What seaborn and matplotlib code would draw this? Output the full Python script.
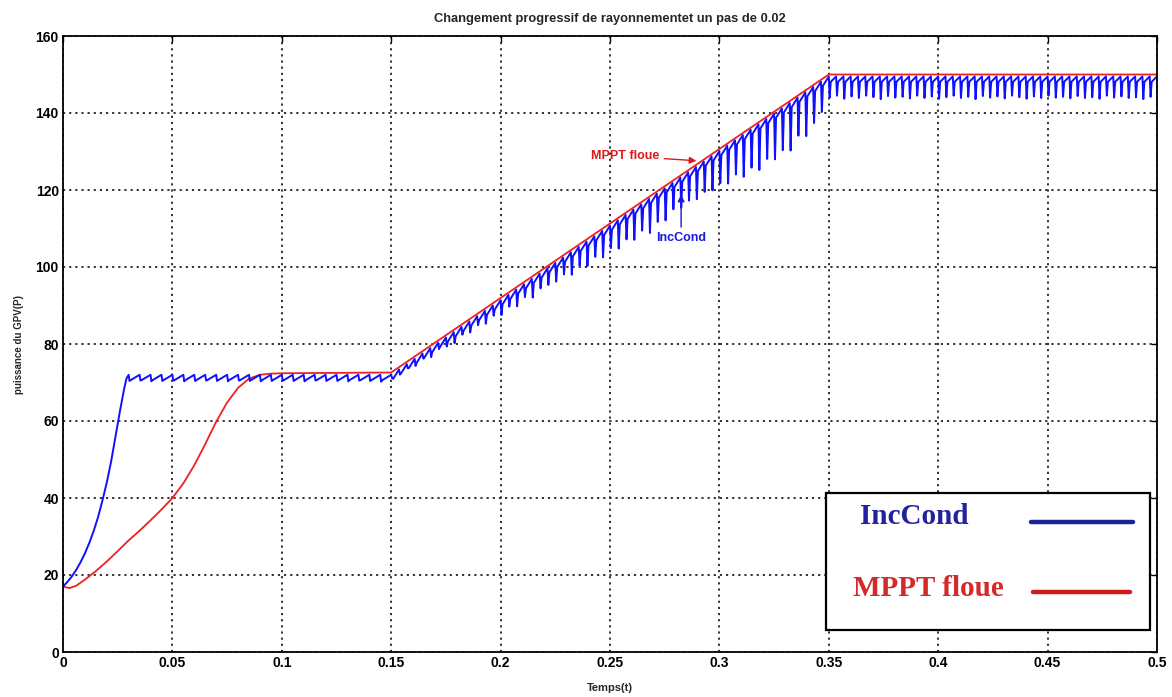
import numpy as np
import pandas as pd
import matplotlib
matplotlib.use("Agg")
import matplotlib.pyplot as plt
import seaborn as sns
from matplotlib.patches import Rectangle
from matplotlib.lines import Line2D

# ---- MPPT floue (fuzzy controller): PV power vs time ----
t_floue = [0.0, 0.003, 0.006, 0.01, 0.015, 0.02, 0.025, 0.03, 0.035, 0.04,
           0.045, 0.05, 0.055, 0.06, 0.065, 0.07, 0.075, 0.08, 0.085, 0.09,
           0.095, 0.1, 0.15, 0.35, 0.5]
p_floue = [17.0, 16.6, 17.2, 18.8, 21.0, 23.5, 26.2, 29.0, 31.5, 34.2,
           37.0, 40.0, 43.8, 48.5, 54.0, 59.8, 64.8, 68.6, 71.0, 72.0,
           72.3, 72.4, 72.6, 150.0, 150.0]

# ---- IncCond: start-up rise ----
t_inc_rise = [0.0, 0.002, 0.004, 0.006, 0.008, 0.010, 0.012, 0.014, 0.016,
              0.018, 0.020, 0.022, 0.024, 0.026, 0.028, 0.029, 0.030]
p_inc_rise = [17.0, 18.2, 19.6, 21.3, 23.3, 25.6, 28.3, 31.4, 35.0,
              39.3, 44.0, 49.5, 56.0, 62.5, 68.5, 71.0, 72.0]

# IncCond operating segments: (start, end, upper level at start, upper level at end)
inc_segments = [(0.030, 0.150, 72.0, 72.0),
                (0.150, 0.350, 72.0, 149.5),
                (0.350, 0.500, 149.5, 149.5)]

# depth of each oscillation dip below the upper level, per segment
inc_dips_plateau1 = [1.6, 1.5, 1.7, 1.6, 1.5, 1.7, 1.6, 1.5, 1.6, 1.7, 1.5, 1.6,
                     1.7, 1.6, 1.5, 1.6, 1.7, 1.5, 1.6, 1.6, 1.7, 1.5, 1.6, 1.8]
inc_dips_ramp = [1.0, 1.5, 1.2, 2.0, 1.5, 2.5, 1.8, 2.5, 3.0, 2.2,
                 3.0, 2.5, 3.5, 2.8, 4.0, 3.2, 4.5, 3.5, 5.0, 4.0,
                 4.5, 5.0, 4.5, 6.0, 5.0, 6.5, 5.5, 7.0, 6.0, 7.5,
                 6.5, 8.0, 7.0, 9.0, 7.5, 8.5, 7.0, 8.0, 7.5, 8.5,
                 8.0, 9.0, 8.5, 10.0, 9.0, 11.0, 10.0, 12.0, 10.5, 12.0,
                 11.0, 12.5, 10.0, 11.5, 9.5, 8.0]
inc_dips_plateau2 = [5.5, 5.0, 5.8, 5.2, 5.6, 5.0, 5.4, 5.9, 5.1, 5.5,
                     5.3, 5.7, 5.0, 5.6, 5.2, 5.8, 5.4, 5.0, 5.6, 5.3,
                     5.9, 5.1, 5.5, 5.2, 5.7, 5.0, 5.4, 5.8, 5.2, 5.6,
                     5.0, 5.5, 5.3, 5.7, 5.1, 5.6, 5.4, 5.8, 5.0, 5.5,
                     5.2, 5.6, 5.4, 5.9, 5.3]
inc_dips = [inc_dips_plateau1, inc_dips_ramp, inc_dips_plateau2]

x_ticks = [0, 0.05, 0.1, 0.15, 0.2, 0.25, 0.3, 0.35, 0.4, 0.45, 0.5]
x_tick_labels = ["0", "0.05", "0.1", "0.15", "0.2", "0.25", "0.3", "0.35", "0.4", "0.45", "0.5"]
y_ticks = [0, 20, 40, 60, 80, 100, 120, 140, 160]


def oscillating_trace(segments, dips):
    """Upper level of each segment with a sharp dip every sampling step."""
    ts, ps = [], []
    for (t0, t1, top0, top1), depths in zip(segments, dips):
        period = (t1 - t0) / len(depths)
        slope = (top1 - top0) / (t1 - t0)
        for k, d in enumerate(depths):
            tk = t0 + period * k
            top = top0 + slope * (tk - t0)
            ts += [tk, tk + 0.0004, tk + 0.0009]
            ps += [top, top - d + slope * 0.0004, top - 1.4 + slope * 0.0009]
        ts.append(t1)
        ps.append(top1)
    return ts, ps


t_osc, p_osc = oscillating_trace(inc_segments, inc_dips)
inc = pd.DataFrame({"t": t_inc_rise + t_osc, "P": p_inc_rise + p_osc})
floue = pd.DataFrame({"t": t_floue, "P": p_floue})

sns.set_theme(style="white")
plt.rcParams["font.family"] = ["Liberation Sans", "DejaVu Sans"]

fig = plt.figure(figsize=(11.72, 6.97), dpi=100)
ax = fig.add_axes([63 / 1172, 1 - 652 / 697, (1157 - 63) / 1172, (652 - 36) / 697])

sns.lineplot(data=floue, x="t", y="P", color="#f02020", lw=1.3, sort=False,
             estimator=None, ax=ax)
sns.lineplot(data=inc, x="t", y="P", color="#1010ff", lw=1.4, sort=False,
             estimator=None, ax=ax)

ax.set_xlim(0, 0.5)
ax.set_ylim(0, 160)
ax.set_xticks(x_ticks)
ax.set_xticklabels(x_tick_labels)
ax.set_yticks(y_ticks)
ax.grid(True, color="#222222", linestyle=(0, (1.2, 2.2)), linewidth=1.3)
ax.tick_params(direction="in", top=True, right=True, length=4, width=1,
               labelsize=10, pad=3, colors="black")
for lab in ax.get_xticklabels() + ax.get_yticklabels():
    lab.set_fontweight("bold")
for sp in ax.spines.values():
    sp.set_color("black")
    sp.set_linewidth(1.3)

ax.set_title("Changement progressif de rayonnementet un pas de 0.02",
             fontsize=9.3, fontweight="bold", pad=10)
ax.set_xlabel("Temps(t)", fontsize=8, fontweight="bold", labelpad=9)
ax.set_ylabel("puissance du GPV(P)", fontsize=7, fontweight="bold", labelpad=8)

# in-plot callouts
ax.annotate("MPPT floue", xy=(0.2895, 127.6), xytext=(0.2415, 128.8),
            color="#e01818", fontsize=9, fontweight="bold", va="center", ha="left",
            arrowprops=dict(arrowstyle="-|>", color="#e01818", lw=1.0,
                            shrinkA=1, shrinkB=0, mutation_scale=10))
ax.annotate("IncCond", xy=(0.2825, 118.8), xytext=(0.2825, 107.6),
            color="#1818e0", fontsize=9, fontweight="bold", va="center", ha="center",
            arrowprops=dict(arrowstyle="-|>", color="#1818e0", lw=1.0,
                            shrinkA=1, shrinkB=0, mutation_scale=10))

# boxed key in the lower right corner
W, H = 1172, 697
def fx(px):
    return px / W
def fy(py):
    return 1 - py / H

box = Rectangle((fx(826), fy(630)), fx(1150) - fx(826), fy(493) - fy(630),
                transform=fig.transFigure, facecolor="white", edgecolor="black",
                lw=1.6, zorder=5)
fig.add_artist(box)
fig.text(fx(860), fy(516), "IncCond", color="#22239c", fontsize=21,
         fontweight="bold", family=["Liberation Serif", "DejaVu Serif"],
         va="center", ha="left", zorder=6)
fig.text(fx(853), fy(589), "MPPT floue", color="#d52a2a", fontsize=21,
         fontweight="bold", family=["Liberation Serif", "DejaVu Serif"],
         va="center", ha="left", zorder=6)
fig.add_artist(Line2D([fx(1031), fx(1133)], [fy(522), fy(522)], color="#1a2496",
                      lw=3.2, transform=fig.transFigure, zorder=6))
fig.add_artist(Line2D([fx(1033), fx(1130)], [fy(592), fy(592)], color="#d01a1a",
                      lw=3.2, transform=fig.transFigure, zorder=6))

fig.savefig("out.png", dpi=100, facecolor="white")
